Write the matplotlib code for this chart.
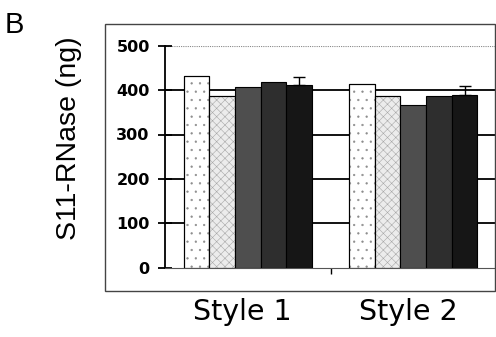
import matplotlib
matplotlib.use('Agg')
import matplotlib.pyplot as plt
from matplotlib.patches import Rectangle
import numpy as np

groups = ['Style 1', 'Style 2']
bar1 = [432, 414]
bar2 = [387, 387]
bar3 = [406, 367]
bar4 = [419, 386]
bar5 = [411, 390]
err5 = [19, 20]
yticks = [0, 100, 200, 300, 400, 500]

series = [bar1, bar2, bar3, bar4, bar5]
faces = ['white', '#ececec', '#4e4e4e', '#2e2e2e', '#161616']
hatches = ['..', 'xxxx', None, None, None]
hatch_cols = ['#8c8c8c', '#a8a8a8', None, None, None]

plt.rcParams['hatch.linewidth'] = 0.4

fig = plt.figure(figsize=(4.96, 3.37), dpi=100)
ax = fig.add_axes([165/496, (337-267.7)/337, 1 - 165/496, (267.7-45.7)/337])

# outer frame of the panel
fig.patches.append(Rectangle((105/496, (337-291)/337), 390/496, 267/337,
                             transform=fig.transFigure, fill=False,
                             edgecolor='#444444', lw=1.0))

x = np.arange(len(groups))
w = 0.155
for i, vals in enumerate(series):
    pos = x + (i - 2) * w
    ax.bar(pos, vals, w, color=faces[i], edgecolor='black', lw=0.8, zorder=3)
    if hatches[i]:
        ax.bar(pos, vals, w, fill=False, edgecolor=hatch_cols[i], lw=0,
               hatch=hatches[i], zorder=3)
        ax.bar(pos, vals, w, fill=False, edgecolor='black', lw=0.8, zorder=3)
ax.errorbar(x + 2 * w, bar5, yerr=[[0, 0], err5], fmt='none', ecolor='black',
            elinewidth=1, capsize=4, capthick=1, zorder=4)

# gridlines
for v in yticks[1:-1]:
    ax.axhline(v, color='black', lw=1.3, zorder=1)
ax.axhline(500, color='#888888', lw=0.8, ls=(0, (1, 1)), zorder=1)

ax.set_xlim(-0.5, 1.5)
ax.set_ylim(0, 500)
ax.set_yticks(yticks)
ax.set_xticks(x - 0.03)
ax.set_xticklabels(groups, fontsize=20.5)
ax.set_xticks([0.5], minor=True)
ax.tick_params(axis='x', which='major', length=0, pad=22)
ax.tick_params(axis='x', which='minor', length=4, direction='out', width=1)
ax.tick_params(axis='y', direction='inout', length=10, width=1.3, pad=6)
for t in ax.get_yticklabels():
    t.set_fontweight('bold')
    t.set_fontsize(11.5)
for s in ['top', 'right']:
    ax.spines[s].set_visible(False)
ax.spines['left'].set_linewidth(1.3)
ax.spines['bottom'].set_linewidth(0.8)
ax.spines['bottom'].set_color('#555555')

fig.text(69/496, 1 - 138/337, 'S11-RNase (ng)', rotation=90, ha='center',
         va='center', fontsize=20.5, family='Liberation Sans')
fig.text(5/496, 1 - 25/337, 'B', ha='left', va='center', fontsize=21,
         family='Liberation Sans')

fig.savefig('out.png', dpi=100)
